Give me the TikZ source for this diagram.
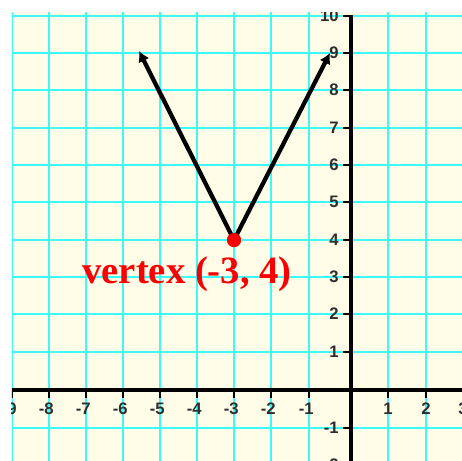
\documentclass[tikz,border=0pt]{standalone}
\usepackage{fontspec}
\setmainfont{Liberation Serif}
\newfontfamily\axisfont{Liberation Sans}
\usetikzlibrary{arrows.meta}
\definecolor{cream}{RGB}{255,253,232}
\definecolor{gridcyan}{RGB}{60,250,250}
\definecolor{labelgray}{RGB}{45,45,45}
\definecolor{vred}{RGB}{250,0,0}
\begin{document}
\begin{tikzpicture}[x=0.75pt,y=-0.75pt,
  gridline/.style={gridcyan,line width=1.6pt},
  axisline/.style={black,line width=3pt},
  tickline/.style={black,line width=2.2pt},
  axislabel/.style={text=labelgray,font=\axisfont\fontsize{12.5}{12.5}\selectfont\bfseries,inner sep=0pt},
  graphline/.style={black,line width=3.2pt,-{Latex[length=8pt,width=9pt]}},
  vdot/.style={circle,fill=vred,inner sep=0pt,minimum size=10.5pt},
  vlabel/.style={text=vred,font=\fontsize{29}{29}\selectfont\bfseries,inner sep=0pt}]
\useasboundingbox (0,0) rectangle (462,461);
\fill[white] (0,0) rectangle (462,461);
\begin{scope}
\clip (12,12) rectangle (462,461);
\fill[cream] (12,12) rectangle (462,461);
\foreach \x in {12,49,86,123,160,197,234,271,309,388,426,463}
  \draw[gridline] (\x,12) -- (\x,461);
\foreach \y in {16,53,90,128,165,202,240,277,314,352,428}
  \draw[gridline] (12,\y) -- (462,\y);
\draw[axisline] (12,390) -- (462,390);
\draw[axisline] (351,15) -- (351,461);
\foreach \x/\t in {12/9,49/8,86/7,123/6,160/5,197/4,234/3,271/2,309/1}{
  \draw[tickline] (\x,390) -- (\x,398);
  \node[axislabel] at (\x,409) {\makebox[0pt][r]{-}\t};}
\foreach \x/\t in {388/1,426/2,463/3}{
  \draw[tickline] (\x,390) -- (\x,398);
  \node[axislabel] at (\x,409) {\t};}
\foreach \y/\t in {16/10,53/9,90/8,128/7,165/6,202/5,240/4,277/3,314/2,352/1,428/-1,465/-2}{
  \draw[tickline] (343,\y) -- (351,\y);
  \node[axislabel,anchor=east] at (339,\y) {\t};}
\node[vdot] (v) at (234,240) {};
\coordinate (l) at (139,51);
\coordinate (r) at (330,53);
\draw[graphline] (v.center) -- (l);
\draw[graphline] (v.center) -- (r);
\node[vdot] at (v) {};
\node[vlabel,anchor=base] (lab) at (187,283) {vertex (-3, 4)};
\end{scope}
\end{tikzpicture}
\end{document}
